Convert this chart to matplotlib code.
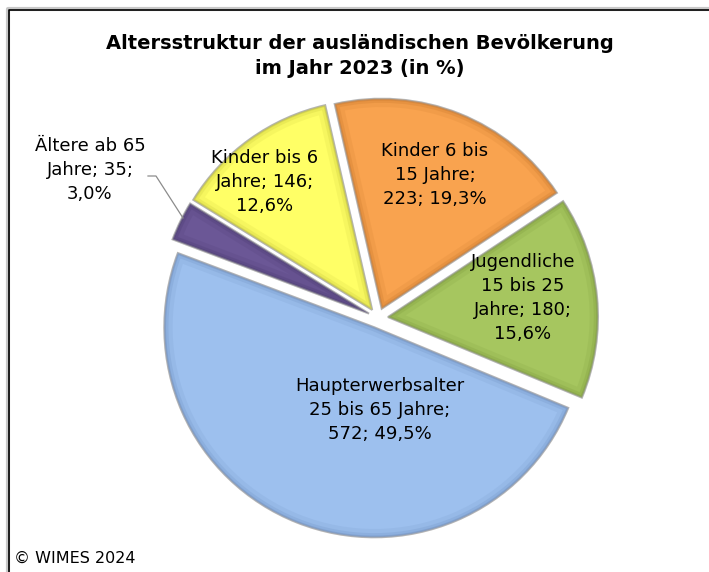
import numpy as np
import matplotlib
matplotlib.use("Agg")
import matplotlib.pyplot as plt

# data (order as drawn clockwise)
labels = ["Kinder bis 6\nJahre; 146;\n12,6%",
          "Kinder 6 bis\n15 Jahre;\n223; 19,3%",
          "Jugendliche\n15 bis 25\nJahre; 180;\n15,6%",
          "Haupterwerbsalter\n25 bis 65 Jahre;\n572; 49,5%",
          "Ältere ab 65\nJahre; 35;\n3,0%"]
counts = [146, 223, 180, 572, 35]
colors = ["#FFFF66", "#F9A34F", "#A6C65F", "#9DC0EE", "#6B5796"]
rims = ["#C9C93A", "#C9782C", "#7C9A3C", "#7092C4", "#4A3A70"]

W, H = 709, 572
cx, cy, R = 378, H - 318, 210


def px(x, y):
    return x, H - y


fig = plt.figure(figsize=(W / 100, H / 100), dpi=100)
ax = fig.add_axes([0, 0, 1, 1])

# explode is in data units (pixels here)
wedges, _ = ax.pie(counts, colors=colors, startangle=148.4, counterclock=False,
                   explode=[10] * 5, radius=R, center=(cx, cy),
                   wedgeprops=dict(edgecolor="#B4B4B4", linewidth=1.5))

# bevel look: darker rim stroked inside each wedge
for w, rc in zip(wedges, rims):
    for lw, a in [(12, 0.15), (6, 0.25), (2.5, 0.45)]:
        rim = matplotlib.patches.Wedge(w.center, w.r, w.theta1, w.theta2,
                                       facecolor="none", edgecolor=rc,
                                       linewidth=lw, alpha=a, zorder=2)
        ax.add_patch(rim)
        rim.set_clip_path(w)

ax.set_xlim(0, W)
ax.set_ylim(0, H)
ax.set_aspect("equal")
ax.axis("off")

font = "DejaVu Sans"
lab_pos = [(265, 182), (435, 175), (523, 298), (380, 410), (90, 170)]
for txt, (x, y) in zip(labels, lab_pos):
    ax.text(*px(x, y), txt, ha="center", va="center", fontsize=13,
            family=font, linespacing=1.45, zorder=5)

# leader line for the small slice
ax.plot([px(148, 176)[0], px(156, 176)[0], px(183, 218)[0]],
        [px(148, 176)[1], px(156, 176)[1], px(183, 218)[1]],
        color="#8C8C8C", lw=0.9, zorder=5)

ax.text(*px(360, 56), "Altersstruktur der ausländischen Bevölkerung\nim Jahr 2023 (in %)",
        ha="center", va="center", fontsize=14, fontweight="bold", family=font,
        linespacing=1.4)

ax.text(*px(14, 558), "© WIMES 2024", ha="left", va="center", fontsize=11.5, family=font)

# chart frame (runs off right/bottom edge)
ax.plot([8, 8, W + 5], [-5, H - 9, H - 9], color="#C8C8C8", lw=3, zorder=1,
        clip_on=False)
ax.plot([9, 9, W + 5], [-5, H - 10, H - 10], color="black", lw=1.2, zorder=1,
        clip_on=False)

fig.savefig("out.png", dpi=100)
